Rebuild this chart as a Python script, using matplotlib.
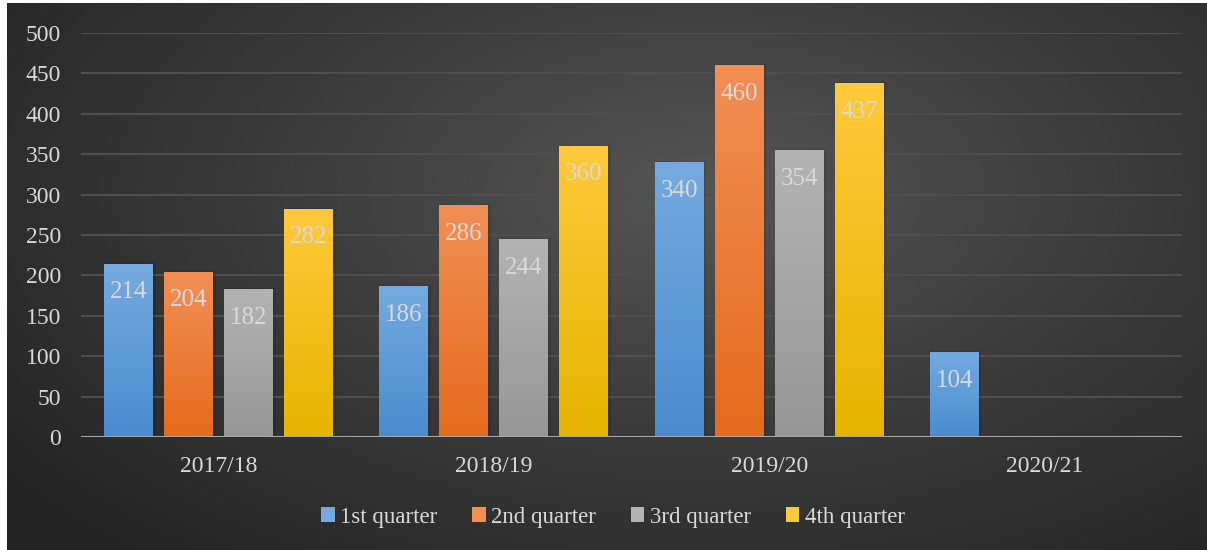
import numpy as np
import matplotlib
matplotlib.use('Agg')
import matplotlib.pyplot as plt
from matplotlib.colors import LinearSegmentedColormap
from matplotlib.patches import Patch

years = ['2017/18', '2018/19', '2019/20', '2020/21']
series_names = ['1st quarter', '2nd quarter', '3rd quarter', '4th quarter']
q1 = [214, 186, 340, 104]
q2 = [204, 286, 460, 0]
q3 = [182, 244, 354, 0]
q4 = [282, 360, 437, 0]
series = [q1, q2, q3, q4]

# (top, bottom) colours of each bar gradient
grads = [('#74aadf', '#4a8ccf'), ('#f28f55', '#e56b1d'),
         ('#b3b3b3', '#979797'), ('#ffc93a', '#e6b400')]
txt = '#d9d9d9'

plt.rcParams['font.family'] = ['Liberation Serif', 'DejaVu Serif']

W, H = 1207, 550
fig = plt.figure(figsize=(W / 100, H / 100), dpi=100)
fig.patch.set_facecolor('white')

# dark radial background
bg = fig.add_axes([7 / W, 0, 1 - 7 / W, 1 - 3 / H])
bg.set_axis_off()
yy, xx = np.mgrid[0:1:300j, 0:1:600j]
r = np.sqrt(((xx - 0.58) / 0.75) ** 2 + ((yy - 0.35) / 0.9) ** 2)
r = np.clip(r, 0, 1)
bgcmap = LinearSegmentedColormap.from_list('bg', ['#555555', '#3a3a3a', '#232323'])
bg.imshow(r, cmap=bgcmap, aspect='auto', extent=[0, 1, 1, 0], vmin=0, vmax=1)

ax = fig.add_axes([81 / W, 113 / H, (1182 - 81) / W, (437 - 33) / H])
ax.set_facecolor('none')
for s in ax.spines.values():
    s.set_visible(False)

x = np.arange(len(years))
bw = 0.178
step = 0.218
for i, (vals, (ctop, cbot)) in enumerate(zip(series, grads)):
    pos = x + (i - 1.5) * step
    bars = ax.bar(pos, vals, bw, color='none', zorder=3)
    cm = LinearSegmentedColormap.from_list('g%d' % i, [cbot, ctop])
    for b, v in zip(bars, vals):
        if v <= 0:
            continue
        x0, w, h = b.get_x(), b.get_width(), b.get_height()
        # soft shadow
        ax.bar(x0 + w / 2 + 0.005, h + 2, w + 0.008, color='black', alpha=0.1,
               zorder=2, linewidth=0)
        grad = np.linspace(0, 1, 100).reshape(-1, 1)
        ax.imshow(grad, cmap=cm, aspect='auto', origin='lower',
                  extent=[x0, x0 + w, 0, h], zorder=3)
        ax.text(x0 + w / 2, h - 35, str(v), ha='center', va='center',
                color=txt, fontsize=18, zorder=5)

ax.set_xlim(-0.5, len(years) - 0.5)
ax.set_ylim(0, 500)
ax.set_yticks(np.arange(0, 501, 50))
ax.set_xticks(x)
ax.set_xticklabels(years)
ax.tick_params(length=0, colors=txt, labelsize=17)
ax.tick_params(axis='y', pad=14.5)
ax.tick_params(axis='x', pad=14)
ax.grid(axis='y', color='#4e4e4e', linewidth=1.5, zorder=0)
ax.set_axisbelow(True)
ax.axhline(0, color='#a6a6a6', linewidth=2.2, zorder=4)

handles = [Patch(facecolor=c[0], edgecolor='none') for c in grads]
fig.legend(handles, series_names, loc='center', bbox_to_anchor=(613 / W, 1 - 517 / H),
           ncol=4, frameon=False, fontsize=16.5, labelcolor=txt,
           handlelength=0.6, handleheight=0.6, handletextpad=0.25, columnspacing=1.5)

fig.savefig('out.png', dpi=100)
